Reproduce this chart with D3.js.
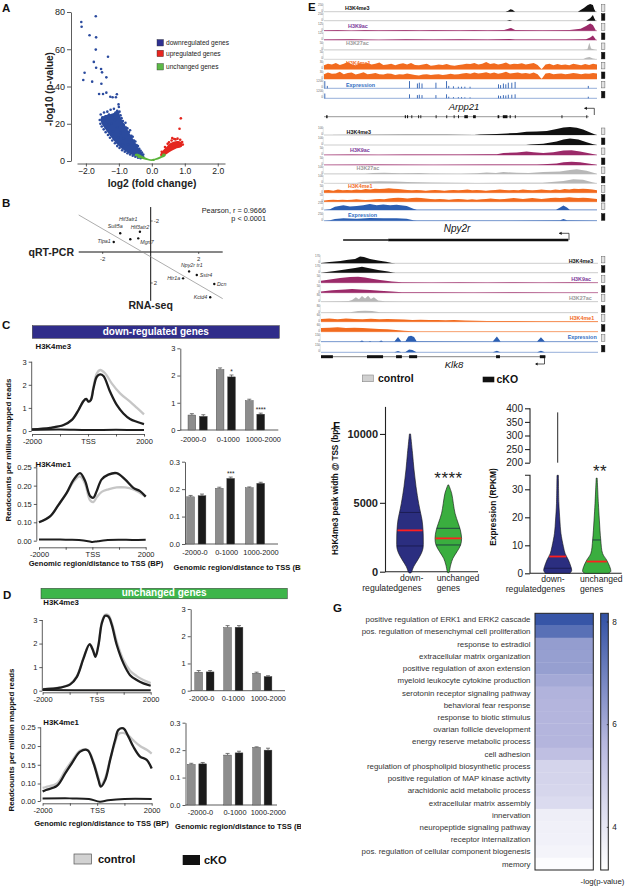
<!DOCTYPE html>
<html><head><meta charset="utf-8">
<script src="https://cdn.jsdelivr.net/npm/d3@7"></script>
<style>body{margin:0;background:#fff}svg{display:block}text{font-family:"Liberation Sans",Arial,Helvetica,sans-serif}</style>
</head><body><svg id="c" width="626" height="886"></svg>
<script>
// ===================== DATA =====================
// ---- Panel A (volcano) ----
const A_xTicks = [-2,-1,0,1,2];
const A_yTicks = [0,20,40,60,80];
const A_legend = ["downregulated genes","upregulated genes","unchanged genes"];
const volDownPts = [[-2.14,74.6],[-2.13,72.1],[-1.70,77.7],[-1.89,67.5],[-1.69,66.4],[-1.70,59.8],[-1.33,56.0],[-1.76,53.2],[-1.69,50.1],[-1.54,49.4],[-1.51,47.6],[-2.04,47.4],[-1.38,44.9],[-2.08,43.5],[-1.81,42.6],[-1.53,41.5],[-1.38,36.7],[-1.60,36.0],[-1.48,36.0],[-1.06,35.8],[-1.26,34.5],[-1.19,34.2],[-1.09,34.2],[-1.01,30.4],
 [-1.55,25.0],[-1.50,23.5],[-1.45,26.0],[-1.40,24.0],[-1.35,26.5],[-1.30,25.0],[-1.25,27.5],[-1.20,24.5],[-1.15,28.0],[-1.10,26.0],[-1.05,27.0],[-1.00,29.0],[-0.98,26.5],[-0.95,24.5],[-0.92,23.0],[-0.88,21.5],[-0.85,19.5],[-0.80,20.5],[-0.78,18.0],[-0.74,17.5],[-0.70,15.5],[-0.66,16.5],[-0.62,13.5],[-0.58,13.0],[-0.54,11.0],[-0.50,10.5],[-0.46,8.5],[-0.42,8.0],[-0.38,6.5],[-0.34,5.5],[-0.30,4.5],[-0.26,3.5],
 [-1.58,22.0],[-1.56,20.0],[-1.52,18.5],[-1.46,17.0],[-1.40,15.5],[-1.33,14.0],[-1.27,12.5],[-1.20,11.0],[-1.12,9.5],[-1.05,8.0],[-0.98,7.0],[-0.90,5.8],[-0.82,5.0],[-0.74,4.2],[-0.66,3.5],[-0.58,2.8],[-0.50,2.3],[-0.42,1.8],[-0.34,1.5],
 [-1.12,22.0],[-1.22,20.0],[-1.05,18.0],[-1.30,19.5],[-0.95,15.0],[-1.18,16.0],[-0.85,12.0],[-1.02,12.5],[-0.72,9.0],[-0.88,8.5]];
const volDownCloud = [[-1.55,23.0],[-1.40,24.5],[-1.20,25.5],[-1.02,27.0],[-0.95,23.5],[-0.82,19.5],[-0.68,15.0],[-0.52,10.5],[-0.38,6.3],[-0.26,3.4],[-0.22,2.0],[-0.32,1.6],[-0.5,2.6],[-0.7,4.2],[-0.9,6.4],[-1.1,9.8],[-1.27,13.5],[-1.40,16.8],[-1.52,20.0]];
const volUpPts = [[0.88,22.9],[0.84,17.3],[0.62,12.3],[0.72,11.6],[0.78,12.0],[0.52,10.0],[0.60,11.0],[0.86,11.4],[0.92,10.2],[0.94,8.8],[0.40,7.5],[0.30,5.0],[0.68,11.8],[0.48,9.2]];
const volUpCloud = [[0.25,3.2],[0.35,5.9],[0.45,7.7],[0.555,9.5],[0.655,10.4],[0.806,10.7],[0.91,9.8],[0.91,7.7],[0.758,6.8],[0.606,5.5],[0.455,3.8],[0.30,2.3]];
const volFlatPts = [[-0.48,3.2],[-0.40,2.2],[0.05,0.6],[0.35,3.4]];
const volFlatCloud = [[-0.46,4.0],[-0.32,3.0],[-0.16,1.6],[0,0.9],[0.16,1.7],[0.30,3.0],[0.40,4.0],[0.42,2.8],[0.26,1.4],[0.12,0.5],[0,0],[-0.12,0.4],[-0.28,1.1],[-0.44,2.4]];

// ---- Panel B (qRT-PCR vs RNA-seq) ----
const B_genes  = ["Tlpa1","Sult5a","Hif3atr1","Hif3atr2","Mgrt7","Npy2r tr1","Sstr4","Htr1a","Dcn","Kctd4"];
const B_xval   = [-1.54,-1.27,-0.85,-0.45,-0.52,1.60,1.92,1.35,2.65,2.48];
const B_yval   = [-0.65,-1.21,-0.82,-1.31,-0.88,1.25,1.48,1.70,2.06,2.92];
const B_fit    = [[-3,-2.39],[3,3.01]];
const B_ticks  = [-2,2];
const B_stats  = ["Pearson, r = 0.9666","p < 0.0001"];

// ---- Panels C/D (profiles and bars) ----
const profTicks = [-2000,-1000,0,1000,2000];
const profTickLabels = {"-2000":"-2000","0":"TSS","2000":"2000"};
const barGroups = ["-2000-0","0-1000","1000-2000"];
const C1_ctrl = [[-2000,0.07],[-1347,0.14],[-872,0.26],[-576,0.48],[-338,0.91],[-160,1.30],[-65,1.39],[18,1.27],[101,1.36],[196,1.92],[315,2.5],[433,2.64],[611,2.5],[848,2.06],[1145,1.63],[1501,1.27],[1739,1.01],[2000,0.72]];
const C1_cko  = [[-2000,0.07],[-1347,0.14],[-872,0.26],[-576,0.48],[-338,0.91],[-160,1.30],[-65,1.39],[18,1.27],[101,1.34],[196,1.85],[315,2.35],[433,2.45],[552,2.38],[789,1.70],[1027,1.13],[1264,0.76],[1501,0.52],[1739,0.40],[2000,0.30]];
const C1_base = [[-2000,0.05],[-1000,0.06],[0,0.04],[1000,0.05],[2000,0.04]];
const C2_ctrl = [[-2000,0.10],[-1587,0.116],[-1275,0.147],[-962,0.18],[-712,0.21],[-462,0.225],[-275,0.205],[-87,0.16],[37,0.155],[162,0.168],[350,0.183],[600,0.19],[912,0.195],[1225,0.195],[1537,0.19],[1787,0.18],[2000,0.17]];
const C2_cko  = [[-2000,0.10],[-1587,0.116],[-1275,0.147],[-962,0.18],[-712,0.215],[-462,0.234],[-275,0.213],[-87,0.172],[37,0.167],[162,0.185],[350,0.217],[600,0.23],[912,0.234],[1225,0.217],[1537,0.194],[1787,0.185],[2000,0.17]];
const C2_base = [[-2000,0.006],[-1500,0.007],[-1000,0.005],[-500,0.004],[-100,-0.004],[0,-0.007],[200,-0.003],[500,0.003],[1000,0.005],[1500,0.004],[2000,0.005]];
const D1_ctrl = [[-2000,0.07],[-1348,0.14],[-978,0.29],[-732,0.62],[-486,1.4],[-264,1.98],[-141,1.76],[-43,1.48],[68,1.98],[191,2.9],[314,3.22],[437,3.2],[560,2.88],[745,2.08],[991,1.3],[1237,0.85],[1483,0.62],[1730,0.45],[2000,0.32]];
const D1_cko  = [[-2000,0.06],[-1348,0.13],[-978,0.27],[-732,0.59],[-486,1.37],[-264,1.97],[-141,1.73],[-43,1.44],[68,1.94],[191,2.86],[314,3.18],[437,3.14],[560,2.79],[745,1.94],[991,1.16],[1237,0.66],[1483,0.45],[1730,0.31],[2000,0.21]];
const D1_base = [[-2000,0.03],[0,0.02],[2000,0.02]];
const D2_ctrl = [[-2000,0.075],[-1878,0.08],[-1476,0.1],[-1171,0.135],[-927,0.16],[-622,0.188],[-354,0.19],[-134,0.158],[49,0.115],[134,0.09],[293,0.115],[476,0.165],[659,0.21],[780,0.232],[963,0.235],[1146,0.228],[1329,0.215],[1573,0.2],[1817,0.19],[2000,0.18]];
const D2_cko  = [[-2000,0.055],[-1878,0.063],[-1476,0.086],[-1171,0.127],[-927,0.154],[-622,0.185],[-354,0.189],[-134,0.154],[49,0.109],[134,0.082],[293,0.109],[476,0.163],[659,0.216],[780,0.243],[963,0.247],[1146,0.225],[1329,0.198],[1573,0.172],[1817,0.163],[2000,0.14]];
const D2_base = [[-2000,0.014],[-1000,0.015],[-300,0.012],[100,-0.004],[400,0.004],[1000,0.012],[2000,0.012]];
const C1_bars = [[0.55,0.50],[2.22,1.95],[1.08,0.58]];
const C1_err  = [[0.05,0.06],[0.06,0.07],[0.05,0.04]];
const C1_sig  = ["","*","****"];
const C2_bars = [[0.172,0.176],[0.203,0.239],[0.205,0.221]];
const C2_err  = [[0.005,0.006],[0.004,0.005],[0.003,0.004]];
const C2_sig  = ["","***",""];
const D1_bars = [[0.68,0.69],[2.32,2.33],[0.64,0.52]];
const D1_err  = [[0.06,0.05],[0.07,0.06],[0.04,0.03]];
const D2_bars = [[0.148,0.150],[0.182,0.190],[0.210,0.200]];
const D2_err  = [[0.004,0.005],[0.006,0.006],[0.002,0.007]];

// ---- Panel E (genome tracks) ----
const E_marks = ["H3K4me3","H3K9ac","H3K27ac","H3K4me1","Expression"];
const E1_range = [250,250,125,125,50,50,30,30,1200,1200];
const E2_range = [100,100,50,50,100,100,50,50,250,250];
const E3_range = [170,170,50,50,80,80,60,60,150,150];
const E1_k4me3_c = [[0,0],[0.665,0],[0.675,0.12],[0.683,0.3],[0.69,0.25],[0.70,0],[0.93,0],[0.94,0.2],[0.952,0.45],[0.965,0.8],[0.975,0.95],[0.985,0.85],[0.99,0.3],[0.995,0]];
const E1_k4me3_k = [[0,0],[0.67,0],[0.68,0.1],[0.69,0],[0.96,0],[0.975,0.3],[0.985,0.7],[0.99,0.3],[0.995,0]];
const E1_k9ac_c = [[0,0.05],[0.05,0.1],[0.1,0.04],[0.15,0.08],[0.2,0.05],[0.3,0.1],[0.35,0.05],[0.4,0.08],[0.5,0.05],[0.55,0.09],[0.6,0.05],[0.66,0.1],[0.685,0.35],[0.70,0.08],[0.8,0.06],[0.9,0.1],[0.94,0.25],[0.96,0.6],[0.975,0.9],[0.985,0.7],[0.995,0.1]];
const E1_k9ac_k = [[0,0.05],[0.1,0.08],[0.2,0.04],[0.3,0.08],[0.4,0.05],[0.5,0.09],[0.6,0.05],[0.68,0.12],[0.7,0.05],[0.8,0.07],[0.9,0.06],[0.96,0.1],[0.975,0.3],[0.985,0.55],[0.995,0.1]];
const E1_k27_c = [[0,0.02],[0.95,0.02],[0.965,0.1],[0.972,0.9],[0.978,0.2],[0.99,0.05],[1,0]];
const E1_k27_k = [[0,0.02],[0.95,0.03],[0.96,0.2],[0.972,0.3],[0.985,0.1],[1,0]];
const E1_k4me1_c = [0.5,0.7,0.6,0.8,0.55,0.7,0.9,0.6,0.5,0.75,0.65,0.8,0.6,0.7,0.85,0.55,0.6,0.7,0.5,0.65,0.75,0.6,0.8,0.55,0.5,0.6,0.7,0.45,0.5,0.6,0.55,0.65,0.5,0.45,0.55,0.6,0.7,0.65,0.8,0.6,0.7,0.9,0.65,0.75,0.6,0.7,0.85,0.6,0.7,0.65,0.75,0.6,0.7,0.8,0.55,0.0,0.6,0.7,0.5,0.65,0.55,0.6,0.5,0.7,0.6,0.5,0.65,0.55,0.7,0.6];
const E1_k4me1_k = [0.6,0.8,0.65,0.7,0.9,0.6,0.75,0.8,0.55,0.7,0.85,0.6,0.65,0.75,0.6,0.55,0.7,0.65,0.5,0.6,0.55,0.7,0.6,0.5,0.45,0.55,0.6,0.5,0.55,0.6,0.5,0.55,0.65,0.55,0.6,0.7,0.75,0.65,0.8,0.7,0.75,0.85,0.7,0.8,0.65,0.75,0.9,0.7,0.75,0.8,0.7,0.75,0.65,0.8,0.6,0.0,0.7,0.75,0.6,0.65,0.7,0.6,0.65,0.75,0.7,0.6,0.7,0.65,0.75,0.7];
const E1_expr_c = [[0.003,0.9],[0.012,0.3],[0.313,0.9],[0.342,0.6],[0.349,0.7],[0.359,0.6],[0.41,0.7],[0.449,0.9],[0.457,0.3],[0.474,0.25],[0.492,0.2],[0.504,0.2],[0.516,0.2],[0.535,0.2],[0.639,0.5],[0.647,0.4],[0.657,0.6],[0.666,0.5],[0.675,0.7],[0.688,0.7],[0.70,0.8],[0.968,0.3]];
const E1_expr_k = [[0.003,0.6],[0.313,0.5],[0.342,0.4],[0.349,0.45],[0.359,0.4],[0.41,0.4],[0.449,0.5],[0.457,0.2],[0.474,0.15],[0.492,0.15],[0.504,0.15],[0.516,0.12],[0.535,0.12],[0.639,0.35],[0.647,0.3],[0.657,0.4],[0.666,0.35],[0.675,0.45],[0.688,0.45],[0.70,0.5],[0.968,0.2]];
const E1_gene = "Arpp21";
const E1_line = [0,0.97];
const E1_exons = [[0.008,0.013],[0.296,0.300],[0.304,0.308],[0.320,0.323],[0.345,0.348],[0.353,0.356],[0.409,0.412],[0.448,0.451],[0.475,0.478],[0.491,0.494],[0.514,0.527],[0.546,0.556],[0.636,0.642],[0.655,0.672],[0.680,0.684],[0.699,0.702],[0.870,0.873],[0.961,0.964]];

const E2_k4me3_c = [[0,0],[0.3,0.03],[0.45,0.04],[0.55,0],[0.571,0.05],[0.633,0.12],[0.669,0.2],[0.706,0.25],[0.742,0.4],[0.779,0.45],[0.816,0.5],[0.852,0.75],[0.877,0.95],[0.901,1.0],[0.926,0.9],[0.949,0.7],[0.975,0.3],[0.993,0.05],[1,0]];
const E2_k4me3_k = [[0,0],[0.74,0],[0.755,0.05],[0.803,0.15],[0.852,0.45],[0.877,0.7],[0.901,0.8],[0.932,0.7],[0.962,0.35],[0.986,0.1],[1,0]];
const E2_k9ac_c = [[0,0.04],[0.1,0.06],[0.2,0.04],[0.3,0.07],[0.4,0.05],[0.5,0.06],[0.6,0.08],[0.633,0.1],[0.657,0.25],[0.706,0.3],[0.742,0.45],[0.767,0.35],[0.803,0.25],[0.84,0.35],[0.877,0.55],[0.907,0.6],[0.938,0.45],[0.975,0.2],[0.993,0.05],[1,0]];
const E2_k9ac_k = [[0,0.04],[0.2,0.06],[0.4,0.04],[0.6,0.05],[0.78,0.05],[0.803,0.08],[0.852,0.2],[0.877,0.35],[0.907,0.4],[0.938,0.35],[0.968,0.2],[0.993,0.05],[1,0]];
const E2_k27_c = [[0,0.02],[0.15,0.03],[0.18,0.12],[0.22,0.15],[0.28,0.1],[0.35,0.12],[0.39,0.05],[0.5,0.04],[0.559,0.1],[0.596,0.2],[0.63,0.12],[0.657,0.25],[0.706,0.15],[0.75,0.12],[0.803,0.25],[0.864,0.3],[0.901,0.5],[0.926,0.6],[0.962,0.4],[0.993,0.1],[1,0]];
const E2_k27_k = [[0,0.02],[0.12,0.05],[0.143,0.2],[0.2,0.25],[0.26,0.22],[0.305,0.15],[0.39,0.1],[0.56,0.05],[0.8,0.08],[0.877,0.3],[0.913,0.5],[0.949,0.45],[0.986,0.1],[1,0]];
const E2_k4me1_c = [0.3,0.35,0.25,0.4,0.3,0.35,0.3,0.4,0.35,0.45,0.4,0.5,0.45,0.5,0.55,0.5,0.45,0.4,0.35,0.3,0.35,0.3,0.25,0.3,0.35,0.3,0.25,0.3,0.35,0.3,0.35,0.4,0.3,0.35,0.3,0.25,0.3,0.35,0.4,0.35,0.3,0.35,0.3,0.4,0.35,0.3,0.35,0.4,0.35,0.3,0.4,0.35,0.45,0.4,0.5,0.45,0.5,0.45,0.4,0.3];
const E2_k4me1_k = [0.15,0.2,0.25,0.2,0.25,0.2,0.25,0.3,0.25,0.2,0.25,0.3,0.35,0.3,0.4,0.45,0.5,0.45,0.4,0.45,0.5,0.45,0.4,0.35,0.3,0.35,0.3,0.25,0.3,0.35,0.3,0.25,0.3,0.25,0.3,0.35,0.4,0.35,0.3,0.35,0.4,0.45,0.4,0.35,0.4,0.45,0.4,0.35,0.4,0.45,0.5,0.45,0.5,0.55,0.5,0.45,0.5,0.45,0.4,0.35];
const E2_expr_c = [[0,0],[0.022,0.1],[0.04,0.4],[0.071,0.6],[0.095,0.45],[0.12,0.5],[0.144,0.6],[0.168,0.75],[0.193,0.6],[0.217,0.7],[0.242,0.6],[0.266,0.65],[0.303,0.5],[0.327,0.15],[0.34,0.02],[0.85,0.02],[0.865,0.3],[0.877,0.55],[0.89,0.3],[0.9,0.02],[1,0.02]];
const E2_expr_k = [[0,0],[0.022,0.05],[0.04,0.2],[0.071,0.3],[0.12,0.25],[0.168,0.35],[0.217,0.3],[0.266,0.32],[0.303,0.25],[0.327,0.05],[0.34,0.01],[0.865,0.05],[0.877,0.2],[0.89,0.05],[1,0.01]];
const E2_gene = "Npy2r";
const E2_utr = [0.07,0.235];
const E2_cds = [0.235,0.895];

const E3_k4me3_c = [[0,0.05],[0.03,0.15],[0.07,0.3],[0.098,0.45],[0.123,0.55],[0.141,0.85],[0.155,0.8],[0.177,0.55],[0.206,0.35],[0.235,0.2],[0.256,0.05],[0.27,0],[1,0]];
const E3_k4me3_k = [[0,0],[0.014,0.05],[0.05,0.2],[0.087,0.4],[0.123,0.6],[0.148,0.75],[0.17,0.6],[0.206,0.35],[0.242,0.15],[0.26,0.03],[0.27,0],[1,0]];
const E3_k9ac_c = [[0,0.25],[0.032,0.4],[0.069,0.6],[0.105,0.7],[0.134,0.75],[0.159,0.65],[0.184,0.5],[0.213,0.35],[0.256,0.15],[0.292,0.05],[0.4,0.04],[0.5,0.06],[0.6,0.04],[0.7,0.06],[0.8,0.04],[0.9,0.05],[1,0.04]];
const E3_k9ac_k = [[0,0.15],[0.04,0.3],[0.087,0.4],[0.112,0.45],[0.141,0.4],[0.177,0.35],[0.213,0.25],[0.256,0.15],[0.292,0.05],[0.4,0.05],[0.55,0.04],[0.7,0.05],[0.85,0.04],[1,0.04]];
const E3_k27_c = [[0,0.02],[0.069,0.05],[0.1,0.1],[0.112,0.2],[0.126,0.55],[0.137,0.3],[0.148,0.7],[0.159,0.4],[0.17,0.75],[0.18,0.35],[0.191,0.55],[0.206,0.15],[0.231,0.05],[0.3,0.02],[1,0.02]];
const E3_k27_k = [[0,0.02],[0.105,0.05],[0.134,0.2],[0.159,0.25],[0.184,0.2],[0.213,0.05],[0.3,0.02],[1,0.02]];
const E3_k4me1_c = [[0,0.35],[0.03,0.4],[0.06,0.3],[0.09,0.4],[0.12,0.35],[0.15,0.3],[0.18,0.38],[0.21,0.32],[0.24,0.35],[0.27,0.3],[0.3,0.28],[0.33,0.22],[0.36,0.25],[0.39,0.2],[0.42,0.22],[0.45,0.18],[0.48,0.2],[0.52,0.15],[0.56,0.12],[0.6,0.1],[0.7,0.08],[0.8,0.07],[0.9,0.06],[1,0.05]];
const E3_k4me1_k = [[0,0.45],[0.03,0.5],[0.06,0.55],[0.09,0.45],[0.12,0.5],[0.15,0.45],[0.18,0.4],[0.21,0.35],[0.24,0.3],[0.27,0.2],[0.3,0.12],[0.33,0.05],[0.36,0.02],[1,0.02]];
const E3_expr_c = [[0,0.02],[0.14,0.02],[0.148,0.15],[0.155,0.02],[0.172,0.02],[0.177,0.1],[0.182,0.02],[0.21,0.02],[0.217,0.15],[0.224,0.02],[0.265,0.02],[0.278,0.6],[0.29,0.02],[0.305,0.05],[0.315,0.65],[0.325,0.75],[0.336,0.6],[0.345,0.05],[0.62,0.02],[0.635,0.65],[0.648,0.02],[0.78,0.02],[0.794,0.55],[0.808,0.02],[1,0.02]];
const E3_expr_k = [[0,0.02],[0.265,0.02],[0.278,0.15],[0.29,0.02],[0.305,0.05],[0.318,0.35],[0.33,0.3],[0.345,0.02],[0.62,0.02],[0.635,0.2],[0.648,0.02],[0.78,0.02],[0.794,0.2],[0.808,0.02],[1,0.02]];
const E3_gene = "Klk8";
const E3_line = [0,0.81];
const E3_exons = [[0,0.043],[0.166,0.224],[0.271,0.292],[0.318,0.347],[0.632,0.646],[0.79,0.81]];
const legendLabels = ["control","cKO"];

// ---- Panel F (violins) ----
const F1_ticks = [0,5000,10000];
const F1_down = [[-100,0.05],[0,0.12],[360,0.26],[850,0.55],[1330,0.81],[1700,0.93],[2300,0.95],[3030,0.93],[3750,0.86],[4300,0.75],[4960,0.62],[6170,0.43],[7380,0.29],[8600,0.18],[10000,0.04]];
const F1_unch = [[-80,0.03],[0,0.07],[480,0.17],[970,0.33],[1450,0.62],[1940,0.88],[2420,0.95],[3030,0.86],[3510,0.71],[4240,0.48],[4960,0.36],[5690,0.24],[6300,0.03]];
const F1_median = [3000,2420];
const F1_quart = [[1870,4300],[1940,3150]];
const F2_ticksLow = [0,10,20,30];
const F2_ticksHigh = [200,250,300,350,400];
const F2_down = [[0,0.88],[1.0,1.0],[2.4,0.94],[4.8,0.76],[7.1,0.53],[9.5,0.41],[14.3,0.23],[19,0.155],[25,0.085],[35,0.05]];
const F2_downMax = 385;
const F2_unch = [[0,0.82],[0.6,1.0],[2.4,0.93],[4.8,0.70],[7.1,0.42],[11.9,0.29],[19,0.19],[25,0.12],[34,0.035]];
const F2_median = [6.0,4.2];
const F2_quart = [[1.8],[11.9]];
const F_sig = ["****","**"];

// ---- Panel G (GO heatmap) ----
const G_terms = ["positive regulation of ERK1 and ERK2 cascade","pos. regulation of mesenchymal cell proliferation","response to estradiol","extracellular matrix organization","positive regulation of axon extension","myeloid leukocyte cytokine production","serotonin receptor signaling pathway","behavioral fear response","response to biotic stimulus","ovarian follicle development","energy reserve metabolic process","cell adhesion","regulation of phospholipid biosynthetic process","positive regulation of MAP kinase activity","arachidonic acid metabolic process","extracellular matrix assembly","innervation","neuropeptide signaling pathway","receptor internalization","pos. regulation of cellular component biogenesis","memory"];
const G_values = [8.05,7.4,6.3,6.25,6.25,6.0,5.75,5.7,5.7,5.7,5.7,5.4,4.65,4.65,4.6,4.4,3.75,3.7,3.65,3.55,3.25];
const G_ticks = [4,6,8];

// ===================== DRAWING =====================
const svg = d3.select("#c");
svg.append("rect").attr("width",626).attr("height",886).attr("fill","#fff");
function T(g,x,y,s,o={}){
  const t=g.append("text").attr("x",x).attr("y",y).text(s)
   .attr("font-size",o.size||8).attr("font-weight",o.bold?"bold":"normal")
   .attr("fill",o.fill||"#222").attr("text-anchor",o.anchor||"start");
  if(o.italic) t.attr("font-style","italic");
  if(o.rot!=null) t.attr("transform",`rotate(${o.rot},${x},${y})`);
  if(o.ls) t.attr("letter-spacing",o.ls);
  return t;
}
function styleAxis(g,fs,col){
  g.selectAll("path").attr("stroke",col||"#333").attr("stroke-width",0.8);
  g.selectAll("line").attr("stroke",col||"#333").attr("stroke-width",0.8);
  g.selectAll("text").attr("font-size",fs).attr("fill","#222").attr("font-family",'"Liberation Sans",Arial,sans-serif');
}
const fmtInt = d3.format("d");
[["A",2,12],["B",2,207],["C",2,329],["D",3,599],["E",308,11],["F",333,430],["G",333,612]].forEach(d=>T(svg,d[1],d[2],d[0],{size:11.5,bold:true,fill:"#111"}));

// ---------- A ----------
(function(){
  const g=svg.append("g");
  const x=d3.scaleLinear().domain([-2.27,2.22]).range([77,225]);
  const y=d3.scaleLinear().domain([0,80]).range([161,12]);
  const ax=g.append("g").attr("transform","translate(71,0)").call(d3.axisLeft(y).tickValues(A_yTicks).tickSize(4).tickSizeOuter(0).tickPadding(2));
  styleAxis(ax,9);
  const bx=g.append("g").attr("transform","translate(0,163.5)").call(d3.axisBottom(x).tickValues(A_xTicks).tickSize(3).tickSizeOuter(0).tickPadding(1));
  styleAxis(bx,8.6);
  const line=d3.line().x(d=>x(d[0])).y(d=>y(d[1])).curve(d3.curveCatmullRomClosed);
  const cDown="#2b4b9e",cUp="#e4261e",cFlat="#5bb43a";
  g.append("path").attr("d",line(volDownCloud)).attr("fill",cDown);
  g.selectAll(".dp").data(volDownPts).join("circle").attr("cx",d=>x(d[0])).attr("cy",d=>y(d[1])).attr("r",1.3).attr("fill",cDown);
  g.append("path").attr("d",line(volUpCloud)).attr("fill",cUp);
  g.selectAll(".up").data(volUpPts).join("circle").attr("cx",d=>x(d[0])).attr("cy",d=>y(d[1])).attr("r",1.3).attr("fill",cUp);
  g.append("path").attr("d",line(volFlatCloud)).attr("fill",cFlat);
  g.selectAll(".fp").data(volFlatPts).join("circle").attr("cx",d=>x(d[0])).attr("cy",d=>y(d[1])).attr("r",1.2).attr("fill",cFlat);
  const lc=["#2e3192","#e8251f","#5cb947"], ly=[39.5,50.2,63.5];
  A_legend.forEach((s,i)=>{
    g.append("rect").attr("x",157).attr("y",ly[i]).attr("width",6.5).attr("height",6.5).attr("fill",lc[i]).attr("stroke","#333").attr("stroke-width",0.4);
    T(g,166,ly[i]+5.5,s,{size:6.6,fill:"#222"});
  });
  T(g,53,89,"-log10 (p-value)",{size:10,bold:true,anchor:"middle",rot:-90});
  T(g,152,186.8,"log2 (fold change)",{size:10.3,bold:true,anchor:"middle"});
})();

// ---------- B ----------
(function(){
  const g=svg.append("g");
  const x=d3.scaleLinear().domain([-3,3]).range([78.7,222.7]);
  const y=d3.scaleLinear().domain([-2,2]).range([221,283]);
  g.append("line").attr("x1",x(-3)).attr("x2",x(3)).attr("y1",y(0)).attr("y2",y(0)).attr("stroke","#111").attr("stroke-width",1);
  g.append("line").attr("x1",x(0)).attr("x2",x(0)).attr("y1",y(-2.9)).attr("y2",y(3.15)).attr("stroke","#111").attr("stroke-width",1);
  B_ticks.forEach(v=>{
    g.append("line").attr("x1",x(v)).attr("x2",x(v)).attr("y1",y(0)).attr("y2",y(0)+2).attr("stroke","#111").attr("stroke-width",0.6);
    T(g,x(v),y(0)+8.5,String(v),{size:6,anchor:"middle",fill:"#333"});
    g.append("line").attr("x1",x(0)).attr("x2",x(0)+2).attr("y1",y(v)).attr("y2",y(v)).attr("stroke","#111").attr("stroke-width",0.6);
    T(g,x(0)+3,y(v)+2,String(v),{size:6,fill:"#333"});
  });
  g.append("line").attr("x1",x(B_fit[0][0])).attr("y1",y(B_fit[0][1])).attr("x2",x(B_fit[1][0])).attr("y2",y(B_fit[1][1])).attr("stroke","#8a8a8a").attr("stroke-width",0.7);
  const lab=[[-3,1.5,"end"],[-5,-5.5,"middle"],[-2,-18,"middle"],[0,-2.5,"middle"],[2,5.5,"start"],[2.7,-4,"middle"],[3,2,"start"],[-3,1.5,"end"],[2.7,1.8,"start"],[-3,1.5,"end"]];
  B_genes.forEach((s,i)=>{
    const cx=x(B_xval[i]),cy=y(B_yval[i]);
    g.append("circle").attr("cx",cx).attr("cy",cy).attr("r",1.2).attr("fill","#111");
    T(g,cx+lab[i][0],cy+lab[i][1],s,{size:5.3,italic:true,anchor:lab[i][2],fill:"#333"});
  });
  T(g,266,212.5,B_stats[0],{size:7.3,anchor:"end",fill:"#222"});
  T(g,266,221,B_stats[1],{size:7.3,anchor:"end",fill:"#222"});
  T(g,74,256,"qRT-PCR",{size:10.5,bold:true,anchor:"end"});
  T(g,150.7,309,"RNA-seq",{size:10.5,bold:true,anchor:"middle"});
})();

// ---------- C/D helpers ----------
const clipL=svg.append("defs").append("clipPath").attr("id","clipL");
clipL.append("rect").attr("x",0).attr("y",0).attr("width",301).attr("height",886);
const left=svg.append("g").attr("clip-path","url(#clipL)");
function banner(x0,x1,y0,y1,fill,text){
  left.append("rect").attr("x",x0).attr("y",y0).attr("width",x1-x0).attr("height",y1-y0).attr("fill",fill).attr("stroke","#333").attr("stroke-width",0.5);
  T(left,(x0+x1)/2,y1-3.2,text,{size:10,bold:true,fill:"#fff",anchor:"middle"});
}
function profile(cfg){
  const g=left.append("g");
  const x=d3.scaleLinear().domain([-2000,2000]).range([cfg.x0,cfg.x1]);
  const y=d3.scaleLinear().domain(cfg.yd).range(cfg.yr);
  const ya=g.append("g").attr("transform",`translate(${cfg.ax},0)`).call(d3.axisLeft(y).tickValues(cfg.yt).tickFormat(cfg.fmt).tickSize(3).tickSizeOuter(0).tickPadding(2));
  styleAxis(ya,7.5);
  ya.select("path").attr("d",`M0,${y(cfg.yt[cfg.yt.length-1])}V${y(cfg.yt[0])}`);
  const xa=g.append("g").attr("transform",`translate(0,${cfg.xy})`).call(d3.axisBottom(x).tickValues(profTicks).tickFormat(d=>profTickLabels[d]||"").tickSize(2.5).tickSizeOuter(0).tickPadding(2));
  styleAxis(xa,7.5);
  const ln=d3.line().x(d=>x(d[0])).y(d=>y(d[1])).curve(d3.curveCatmullRom.alpha(0.5));
  g.append("path").attr("d",ln(cfg.ctrl)).attr("fill","none").attr("stroke","#c6c6c6").attr("stroke-width",2.3);
  g.append("path").attr("d",ln(cfg.base)).attr("fill","none").attr("stroke","#1e1e1e").attr("stroke-width",2);
  g.append("path").attr("d",ln(cfg.cko)).attr("fill","none").attr("stroke","#1e1e1e").attr("stroke-width",2.3);
  T(g,cfg.tx,cfg.ty,cfg.title,{size:7.8,bold:true,fill:"#111"});
  if(cfg.xl) T(g,cfg.xl[0],cfg.xl[1],"Genomic region/distance to TSS (BP)",{size:7.6,bold:true,anchor:"middle",fill:"#111"});
}
function bars(cfg){
  const g=left.append("g");
  const y=d3.scaleLinear().domain([0,cfg.ymax]).range(cfg.yr);
  const gx=d3.scaleLinear().domain([0,1,2]).range(cfg.centers);
  const sx=d3.scaleBand().domain([0,1]).range([-9.6,9.6]).paddingInner(0.32);
  const ya=g.append("g").attr("transform",`translate(${cfg.ax},0)`).call(d3.axisLeft(y).tickValues(cfg.yt).tickFormat(cfg.fmt).tickSize(3).tickSizeOuter(0).tickPadding(2));
  styleAxis(ya,7.5);
  g.append("line").attr("x1",cfg.ax).attr("x2",cfg.xend).attr("y1",y(0)).attr("y2",y(0)).attr("stroke","#333").attr("stroke-width",0.8);
  const cols=["#8d8d8d","#1b1b1b"];
  cfg.vals.forEach((pair,gi)=>{
    pair.forEach((v,si)=>{
      const bx=gx(gi)+sx(si), bw=sx.bandwidth();
      const e=cfg.err[gi][si];
      g.append("line").attr("x1",bx+bw/2).attr("x2",bx+bw/2).attr("y1",y(v)).attr("y2",y(v+e)).attr("stroke","#555").attr("stroke-width",0.8);
      g.append("line").attr("x1",bx+bw/2-2).attr("x2",bx+bw/2+2).attr("y1",y(v+e)).attr("y2",y(v+e)).attr("stroke","#555").attr("stroke-width",0.8);
      g.append("rect").attr("x",bx).attr("y",y(v)).attr("width",bw).attr("height",y(0)-y(v)).attr("fill",cols[si]).attr("stroke","#444").attr("stroke-width",0.4);
      if(si===1&&cfg.sig&&cfg.sig[gi]) T(g,bx+bw/2,y(v+e)-1.2,cfg.sig[gi],{size:6.5,anchor:"middle",fill:"#222"});
    });
    T(g,cfg.lx[gi],cfg.ly,barGroups[gi],{size:7.4,anchor:"middle",fill:"#222"});
  });
  if(cfg.xl) T(g,cfg.xl[0],cfg.xl[1],"Genomic region/distance to TSS (BP)",{size:7.6,bold:true,anchor:"start",fill:"#111"});
}
const f1=d=>String(d), f2=d=>d.toFixed(2), f3=d=>d.toFixed(1);

// ---------- C ----------
banner(32.3,279.3,325.7,338.3,"#302d8a","down-regulated genes");
profile({x0:32,x1:144,ax:31.7,xy:434,yd:[0,3],yr:[431,361.7],yt:[0,1,2,3],fmt:f1,ctrl:C1_ctrl,cko:C1_cko,base:C1_base,title:"H3K4me3",tx:35.5,ty:349});
bars({ymax:3,yr:[430,348.3],ax:180.3,xend:278.3,yt:[0,1,2,3],fmt:f1,centers:[197.6,225.8,255],vals:C1_bars,err:C1_err,sig:C1_sig,lx:[193.3,228.3,263.3],ly:442});
profile({x0:39,x1:145.7,ax:36.8,xy:547.3,yd:[0,0.1,0.25],yr:[540.7,522.3,467.3],yt:[0,0.1,0.15,0.2,0.25],fmt:f2,ctrl:C2_ctrl,cko:C2_cko,base:C2_base,title:"H3K4me1",tx:35.5,ty:467,xl:[96,566]});
bars({ymax:0.3,yr:[544,461.7],ax:185,xend:278,yt:[0,0.1,0.2,0.3],fmt:f3,centers:[196.3,225,255],vals:C2_bars,err:C2_err,sig:C2_sig,lx:[195,226.7,261],ly:555,xl:[173.5,570]});
T(left,10.5,450,"Readcounts per million mapped reads",{size:7.9,bold:true,anchor:"middle",rot:-90,fill:"#111"});

// ---------- D ----------
banner(41,287.3,588.3,598.8,"#3db54a","unchanged genes");
profile({x0:42.6,x1:150.7,ax:42.3,xy:692.3,yd:[0,3],yr:[690.7,620],yt:[0,1,2,3],fmt:f1,ctrl:D1_ctrl,cko:D1_cko,base:D1_base,title:"H3K4me3",tx:43.3,ty:605});
bars({ymax:3,yr:[690.7,609],ax:190.7,xend:285,yt:[0,1,2,3],fmt:f1,centers:[204.4,233.3,262.3],vals:D1_bars,err:D1_err,lx:[201.7,233.3,268.3],ly:701});
profile({x0:42.6,x1:151.7,ax:40.7,xy:803.3,yd:[0,0.1,0.25],yr:[801,783.5,727.3],yt:[0,0.1,0.15,0.2,0.25],fmt:f2,ctrl:D2_ctrl,cko:D2_cko,base:D2_base,title:"H3K4me1",tx:43.3,ty:725,xl:[101.5,826]});
bars({ymax:0.3,yr:[805,722.7],ax:185.5,xend:277,yt:[0,0.1,0.2,0.3],fmt:f3,centers:[197,233.3,262.3],vals:D2_bars,err:D2_err,lx:[200.5,235,268.3],ly:815,xl:[175,829]});
T(left,14,740,"Readcounts per million mapped reads",{size:7.9,bold:true,anchor:"middle",rot:-90,fill:"#111"});
left.append("rect").attr("x",74).attr("y",854).attr("width",17.5).attr("height",10).attr("fill","#d2d2d2").attr("stroke","#555").attr("stroke-width",0.7);
T(left,98,863,legendLabels[0],{size:11,bold:true,fill:"#111"});
left.append("rect").attr("x",182.7).attr("y",855).attr("width",17.3).attr("height",10).attr("fill","#111");
T(left,204,864,legendLabels[1],{size:11,bold:true,fill:"#111"});

// ---------- E ----------
(function(){
  const g=svg.append("g");
  const H=8;
  const colors={"H3K4me3":"#111","H3K9ac":"#9b2a69","H3K27ac":"#b8b8b8","H3K4me1":"#f26b1f","Expression":"#2c5fb2"};
  const labCol={"H3K4me3":"#111","H3K9ac":"#7d3a99","H3K27ac":"#9a9a9a","H3K4me1":"#f26b1f","Expression":"#2f6dc2"};
  const baseCol={"H3K4me3":"#9a9a9a","H3K9ac":"#9b2a69","H3K27ac":"#aaa","H3K4me1":"#f26b1f","Expression":"#2c5fb2"};
  function toPts(arr){ if(typeof arr[0]==="number"){ const s=d3.scaleLinear().domain([0,arr.length-1]).range([0,1]); return arr.map((v,i)=>[s(i),v]); } return arr; }
  function track(x,base,mark,data,kind,rng){
    const hs=d3.scaleLinear().domain([0,1]).range([0,H]);
    g.append("line").attr("x1",x.range()[0]).attr("x2",x.range()[1]).attr("y1",base).attr("y2",base).attr("stroke",baseCol[mark]).attr("stroke-width",0.5);
    if(kind==="spikes"){
      g.selectAll(null).data(data).join("rect").attr("x",d=>x(d[0])-0.45).attr("y",d=>base-hs(d[1])).attr("width",0.9).attr("height",d=>hs(d[1])).attr("fill",colors[mark]);
    } else {
      const ar=d3.area().x(d=>x(d[0])).y0(base).y1(d=>base-hs(d[1])).curve(d3.curveLinear);
      g.append("path").attr("d",ar(toPts(data))).attr("fill",colors[mark]);
    }
    const x0=x.range()[0]-1;
    T(g,x0,base-6.2,String(rng),{size:3,anchor:"end",fill:"#666"});
    T(g,x0,base-0.2,"0",{size:3,anchor:"end",fill:"#666"});
    g.append("line").attr("x1",x0+0.2).attr("x2",x0+0.2).attr("y1",base-H).attr("y2",base).attr("stroke","#999").attr("stroke-width",0.3);
  }
  function box(y,ctrl){
    g.append("rect").attr("x",601.5).attr("y",y-7).attr("width",3.4).attr("height",6.6).attr("fill",ctrl?"#e2e2e2":"#111").attr("stroke",ctrl?"#666":"#111").attr("stroke-width",0.5);
  }
  function block(xr,bases,sets,labels,labelRight,ranges){
    const x=d3.scaleLinear().domain([0,1]).range(xr);
    sets.forEach((s,i)=>{
      const mark=E_marks[Math.floor(i/2)];
      track(x,bases[i],mark,s,(s.spikes?"spikes":"area"),ranges[i]);
      box(bases[i],i%2===0);
    });
    labels.forEach((l,i)=>T(g,l[0],l[1],E_marks[i],{size:5.4,bold:true,fill:labCol[E_marks[i]],anchor:labelRight?"end":"start"}));
    return x;
  }
  const sp=a=>{a.spikes=true;return a;};
  const x1=block([324,597],[11.7,20.7,30.7,40,50,59.3,69.3,79,88.3,98.3],
    [E1_k4me3_c,E1_k4me3_k,E1_k9ac_c,E1_k9ac_k,E1_k27_c,E1_k27_k,E1_k4me1_c,E1_k4me1_k,sp(E1_expr_c),sp(E1_expr_k)],
    [[345,10],[348,27.5],[346,45],[346,64.5],[346,87]],false,E1_range);
  g.append("line").attr("x1",x1(E1_line[0])).attr("x2",x1(E1_line[1])).attr("y1",116.7).attr("y2",116.7).attr("stroke","#333").attr("stroke-width",0.5);
  E1_exons.forEach(e=>g.append("rect").attr("x",x1(e[0])).attr("y",115.2).attr("width",Math.max(0.9,x1(e[1])-x1(e[0]))).attr("height",3).attr("fill","#111"));
  T(g,464,110,E1_gene,{size:9.5,italic:true,anchor:"middle",fill:"#111"});
  function tss(xv,y0,y1,len){
    g.append("path").attr("d",`M${xv},${y0}V${y1}H${xv-len}`).attr("fill","none").attr("stroke","#111").attr("stroke-width",0.7);
    g.append("path").attr("d",`M${xv-len},${y1}l2.6,-1.6v3.2z`).attr("fill","#111");
  }
  tss(594.3,115,108.3,10);
  const x2=block([324,597],[135,145,155,165,174,183.3,192.7,201.7,210,220.7],
    [E2_k4me3_c,E2_k4me3_k,E2_k9ac_c,E2_k9ac_k,E2_k27_c,E2_k27_k,E2_k4me1_c,E2_k4me1_k,E2_expr_c,E2_expr_k],
    [[346.5,133.5],[350,151.5],[356.5,169.5],[348,188],[348,217]],false,E2_range);
  g.append("line").attr("x1",x2(E2_utr[0])).attr("x2",x2(E2_utr[1])).attr("y1",240).attr("y2",240).attr("stroke","#111").attr("stroke-width",1.4);
  g.append("line").attr("x1",x2(E2_cds[0])).attr("x2",x2(E2_cds[1])).attr("y1",240).attr("y2",240).attr("stroke","#111").attr("stroke-width",2.4);
  T(g,457,232,E2_gene,{size:10,italic:true,anchor:"middle",fill:"#111"});
  tss(569,240,233.3,10);
  const x3=block([321,598],[263.3,272.7,282.7,292.7,301.7,312.7,321.7,331.7,341.7,352.3],
    [E3_k4me3_c,E3_k4me3_k,E3_k9ac_c,E3_k9ac_k,E3_k27_c,E3_k27_k,E3_k4me1_c,E3_k4me1_k,E3_expr_c,E3_expr_k],
    [[593.3,262.5],[591,281],[591.7,300],[594.3,319.5],[596.7,338.5]],true,E3_range);
  g.append("line").attr("x1",x3(E3_line[0])).attr("x2",x3(E3_line[1])).attr("y1",356.7).attr("y2",356.7).attr("stroke","#333").attr("stroke-width",0.6);
  E3_exons.forEach(e=>g.append("rect").attr("x",x3(e[0])).attr("y",355.2).attr("width",Math.max(1.2,x3(e[1])-x3(e[0]))).attr("height",3).attr("fill","#111"));
  T(g,454,367.5,E3_gene,{size:9.5,italic:true,anchor:"middle",fill:"#111"});
  g.append("path").attr("d",`M544.5,356.7V364H536`).attr("fill","none").attr("stroke","#111").attr("stroke-width",0.7);
  g.append("path").attr("d",`M535,364l2.6,-1.6v3.2z`).attr("fill","#111");
  g.append("rect").attr("x",362.3).attr("y",375).attr("width",11).attr("height",6.7).attr("fill","#d0d0d0").attr("stroke","#888").attr("stroke-width",0.6);
  T(g,378,382,legendLabels[0],{size:10.5,bold:true,fill:"#111"});
  g.append("rect").attr("x",482.7).attr("y",376.7).attr("width",11.6).attr("height",5.6).attr("fill","#111");
  T(g,496.5,382.5,legendLabels[1],{size:10.5,bold:true,fill:"#111"});
})();

// ---------- F ----------
(function(){
  const g=svg.append("g");
  const cols=["#2b2e80","#3aae3f"];
  const wS=d3.scaleLinear().domain([0,1]).range([0,14]);
  function widthAt(prof,v){const i=d3.bisector(d=>d[0]).left(prof,v); if(i<=0) return prof[0][1]; if(i>=prof.length) return prof[prof.length-1][1]; const a=prof[i-1],b=prof[i]; return a[1]+(b[1]-a[1])*(v-a[0])/(b[0]-a[0]);}
  function violin(prof,cx,y,col,med,quarts){
    const ar=d3.area().y(d=>y(d[0])).x0(d=>cx-wS(d[1])).x1(d=>cx+wS(d[1])).curve(d3.curveCatmullRom);
    g.append("path").attr("d",ar(prof)).attr("fill",col).attr("stroke","#111").attr("stroke-width",0.6);
    quarts.forEach(q=>{const w=wS(widthAt(prof,q)); g.append("line").attr("x1",cx-w).attr("x2",cx+w).attr("y1",y(q)).attr("y2",y(q)).attr("stroke","#161640").attr("stroke-width",0.7);});
    const w=wS(widthAt(prof,med));
    g.append("line").attr("x1",cx-w+0.5).attr("x2",cx+w-0.5).attr("y1",y(med)).attr("y2",y(med)).attr("stroke","#ff1f1f").attr("stroke-width",1.8);
  }
  const y1=d3.scaleLinear().domain([0,12000]).range([571.7,406.4]);
  const ax=g.append("g").attr("transform","translate(385,0)").call(d3.axisLeft(y1).tickValues(F1_ticks).tickFormat(fmtInt).tickSize(5).tickSizeOuter(0).tickPadding(2));
  styleAxis(ax,11,"#222"); ax.selectAll("text").attr("font-weight","bold");
  ax.selectAll("path,line").attr("stroke-width",1.1);
  g.append("line").attr("x1",385).attr("x2",478).attr("y1",571.7).attr("y2",571.7).attr("stroke","#222").attr("stroke-width",1.1);
  violin(F1_down,410,y1,cols[0],F1_median[0],F1_quart[0]);
  violin(F1_unch,448.3,y1,cols[1],F1_median[1],F1_quart[1]);
  T(g,448.5,484,F_sig[0],{size:17,anchor:"middle",fill:"#222",ls:0.5});
  T(g,337.5,491,"H3K4me3 peak width @ TSS (bp)",{size:8.2,bold:true,anchor:"middle",rot:-90,fill:"#111"});
  T(g,411.7,581,"down-",{size:8.6,anchor:"middle",fill:"#222"});
  T(g,421.5,591,"regulatedgenes",{size:8.6,anchor:"end",fill:"#222"});
  T(g,436.7,581,"unchanged",{size:8.6,anchor:"start",fill:"#222"});
  T(g,436.7,591,"genes",{size:8.6,anchor:"start",fill:"#222"});
  const yl=d3.scaleLinear().domain([0,35]).range([573.3,475.3]);
  const yh=d3.scaleLinear().domain([200,400]).range([462.7,408.3]);
  const al=g.append("g").attr("transform","translate(530,0)").call(d3.axisLeft(yl).tickValues(F2_ticksLow).tickSize(5).tickSizeOuter(0).tickPadding(2));
  styleAxis(al,10,"#222"); al.selectAll("path,line").attr("stroke-width",1.1);
  al.select("path").attr("d",`M-5,${yl(35)}H0V${yl(0)}`);
  const ah=g.append("g").attr("transform","translate(530,0)").call(d3.axisLeft(yh).tickValues(F2_ticksHigh).tickSize(5).tickSizeOuter(0).tickPadding(2));
  styleAxis(ah,10,"#222"); ah.selectAll("path,line").attr("stroke-width",1.1);
  ah.select("path").attr("d",`M0,${yh(400)}V${yh(200)}`);
  g.append("line").attr("x1",530).attr("x2",621.7).attr("y1",573.3).attr("y2",573.3).attr("stroke","#222").attr("stroke-width",1.1);
  g.append("line").attr("x1",557.7).attr("x2",557.7).attr("y1",yh(F2_downMax)).attr("y2",yh(200)).attr("stroke","#111").attr("stroke-width",0.9);
  violin(F2_down,557.7,yl,cols[0],F2_median[0],F2_quart[0]);
  violin(F2_unch,596.7,yl,cols[1],F2_median[1],F2_quart[1]);
  T(g,600,477,F_sig[1],{size:17,anchor:"middle",fill:"#222",ls:0.5});
  T(g,496,507,"Expression (RPKM)",{size:8.4,bold:true,anchor:"middle",rot:-90,fill:"#111"});
  T(g,553,582,"down-",{size:8.6,anchor:"middle",fill:"#222"});
  T(g,565,592,"regulatedgenes",{size:8.6,anchor:"end",fill:"#222"});
  T(g,580,582,"unchanged",{size:8.6,anchor:"start",fill:"#222"});
  T(g,580,592,"genes",{size:8.6,anchor:"start",fill:"#222"});
})();

// ---------- G ----------
(function(){
  const g=svg.append("g");
  const y=d3.scaleBand().domain(G_terms).range([613.3,870]);
  const col=d3.scaleLinear().domain([3.16,5.6,8.16]).range(["#ffffff","#b9b9df","#3151a4"]);
  g.selectAll(".hm").data(G_terms).join("rect").attr("x",535).attr("y",d=>y(d)).attr("width",58.3).attr("height",y.bandwidth()+0.3).attr("fill",(d,i)=>col(G_values[i]));
  g.append("rect").attr("x",535).attr("y",613.3).attr("width",58.3).attr("height",256.7).attr("fill","none").attr("stroke","#222").attr("stroke-width",1);
  G_terms.forEach((s,i)=>T(g,530.5,y(s)+y.bandwidth()/2+2.8,s,{size:7.9,anchor:"end",fill:"#333"}));
  const cs=d3.scaleLinear().domain([3.16,8.16]).range([870,613.3]);
  const grad=svg.append("defs").append("linearGradient").attr("id","cbar").attr("x1",0).attr("y1",1).attr("x2",0).attr("y2",0);
  d3.range(0,1.0001,0.1).forEach(t=>grad.append("stop").attr("offset",t).attr("stop-color",col(3.16+t*5)));
  g.append("rect").attr("x",600.7).attr("y",613.3).attr("width",7.6).attr("height",256.7).attr("fill","url(#cbar)").attr("stroke","#222").attr("stroke-width",1);
  const ca=g.append("g").attr("transform","translate(608.3,0)").call(d3.axisRight(cs).tickValues(G_ticks).tickFormat(fmtInt).tickSize(-1.5).tickSizeOuter(0).tickPadding(4));
  styleAxis(ca,8.2,"#222"); ca.select("path").remove();
  T(g,602.5,884,"-log(p-value)",{size:7.8,anchor:"middle",fill:"#222"});
})();
</script></body></html>
